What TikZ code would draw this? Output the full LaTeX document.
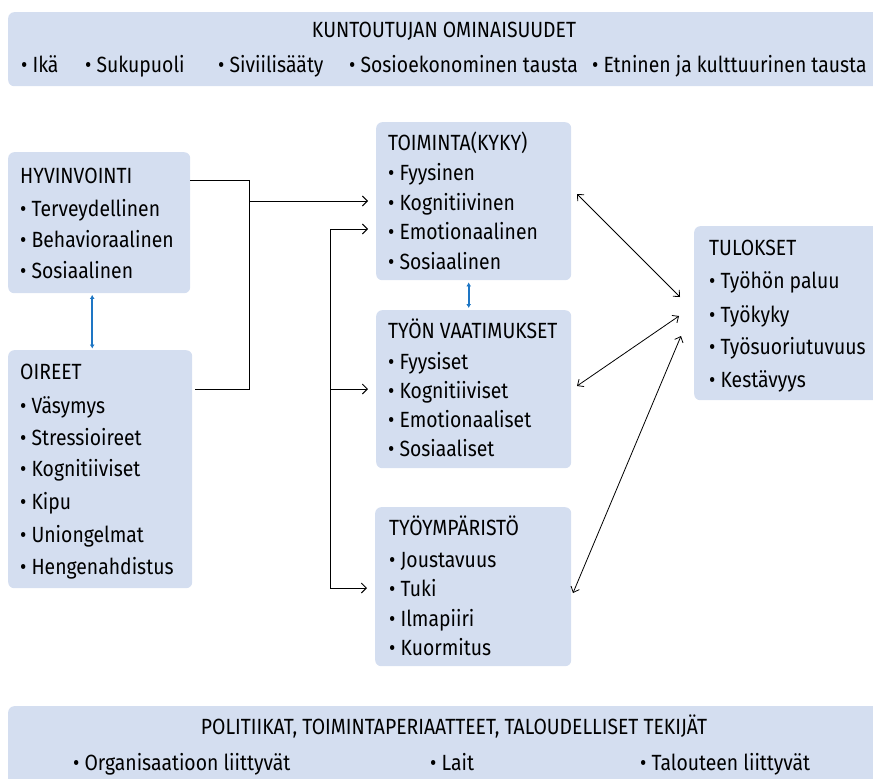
\documentclass[tikz,border=0pt]{standalone}
\usepackage{fontspec}
\setmainfont{Fira Sans}[FakeStretch=0.88]
\usetikzlibrary{arrows.meta,calc}
\definecolor{boxfill}{RGB}{212,222,240}
\definecolor{bluearr}{RGB}{30,118,196}
\begin{document}
\begin{tikzpicture}[x=1pt,y=-1pt,
  box/.style={fill=boxfill,draw=none,rounded corners=6pt,anchor=north west,inner sep=0},
  txt/.style={anchor=base west,inner sep=0,font=\fontsize{22}{26}\selectfont},
  ctxt/.style={anchor=base,inner sep=0,font=\fontsize{22}{26}\selectfont},
  conn/.style={black,line width=0.9pt},
  arr/.style={conn,-{Straight Barb[length=5pt,width=10pt]},shorten >=8pt},
  dbl/.style={black,line width=0.8pt,{Straight Barb[length=5pt,width=9pt]}-{Straight Barb[length=5pt,width=9pt]}},
  barr/.style={bluearr,line width=1.6pt,{Latex[length=4pt,width=5pt]}-{Latex[length=4pt,width=5pt]}}]
\useasboundingbox (0,0) rectangle (873,779);
\clip (0,0) rectangle (873,779);
% boxes
\node[box,minimum width=900pt,minimum height=74pt] (top) at (8,12) {};
\node[box,minimum width=182pt,minimum height=141pt] (hyv) at (8,152) {};
\node[box,minimum width=184pt,minimum height=238pt] (oir) at (8,350) {};
\node[box,minimum width=195pt,minimum height=158pt] (toim) at (376,122) {};
\node[box,minimum width=195pt,minimum height=158pt] (vaat) at (376,310) {};
\node[box,minimum width=196pt,minimum height=159pt] (ymp) at (375,507) {};
\node[box,minimum width=200pt,minimum height=174pt] (tul) at (694,226) {};
\node[box,minimum width=900pt,minimum height=90pt] (pol) at (8,706) {};
% top texts
\node[ctxt] (t0) at (444,37.5) {KUNTOUTUJAN OMINAISUUDET};
\node[txt] (t1) at (21,72.5) {• Ikä};
\node[txt] (t2) at (85,72.5) {• Sukupuoli};
\node[txt] (t3) at (218,72.5) {• Siviilisääty};
\node[txt] (t4) at (349,72.5) {• Sosioekonominen tausta};
\node[txt] (t5) at (592,72.5) {• Etninen ja kulttuurinen tausta};
% hyvinvointi
\node[txt] (h0) at (20,183.5) {HYVINVOINTI};
\node[txt] (h1) at (20,216.5) {• Terveydellinen};
\node[txt] (h2) at (20,247.5) {• Behavioraalinen};
\node[txt] (h3) at (20,278.5) {• Sosiaalinen};
% oireet
\node[txt] (o0) at (20,379.5) {OIREET};
\node[txt] (o1) at (20,413.5) {• Väsymys};
\node[txt] (o2) at (20,445.5) {• Stressioireet};
\node[txt] (o3) at (20,476.5) {• Kognitiiviset};
\node[txt] (o4) at (20,509.5) {• Kipu};
\node[txt] (o5) at (20,542.5) {• Uniongelmat};
\node[txt] (o6) at (20,574.5) {• Hengenahdistus};
% toiminta
\node[txt] (a0) at (388,150.5) {TOIMINTA(KYKY)};
\node[txt] (a1) at (388,180.5) {• Fyysinen};
\node[txt] (a2) at (388,210.5) {• Kognitiivinen};
\node[txt] (a3) at (388,239.5) {• Emotionaalinen};
\node[txt] (a4) at (388,269.5) {• Sosiaalinen};
% vaatimukset
\node[txt] (v0) at (388,338.5) {TYÖN VAATIMUKSET};
\node[txt] (v1) at (388,369.5) {• Fyysiset};
\node[txt] (v2) at (388,398.5) {• Kognitiiviset};
\node[txt] (v3) at (388,427.5) {• Emotionaaliset};
\node[txt] (v4) at (388,456.5) {• Sosiaaliset};
% tyoymparisto
\node[txt] (y0) at (389,535) {TYÖYMPÄRISTÖ};
\node[txt] (y1) at (389,567) {• Joustavuus};
\node[txt] (y2) at (389,596) {• Tuki};
\node[txt] (y3) at (389,626) {• Ilmapiiri};
\node[txt] (y4) at (389,655) {• Kuormitus};
% tulokset
\node[txt] (r0) at (709,255.5) {TULOKSET};
\node[txt] (r1) at (709,288.5) {• Työhön paluu};
\node[txt] (r2) at (709,322) {• Työkyky};
\node[txt] (r3) at (709,354.5) {• Työsuoriutuvuus};
\node[txt] (r4) at (709,387) {• Kestävyys};
% bottom texts
\node[ctxt] (p0) at (454,734.5) {POLITIIKAT, TOIMINTAPERIAATTEET, TALOUDELLISET TEKIJÄT};
\node[txt] (p1) at (73,770.5) {• Organisaatioon liittyvät};
\node[txt] (p2) at (430,770.5) {• Lait};
\node[txt] (p3) at (640,770.5) {• Talouteen liittyvät};
% connectors left bracket
\coordinate (jT) at (249,180);
\coordinate (jM) at (249,201);
\coordinate (jB) at (249,389);
\draw[conn] (hyv.east |- jT) -- (jT) -- (jB) -- ([xshift=3pt]oir.east |- jB);
\draw[arr] (jM) -- (toim.west |- jM);
% second bracket
\coordinate (kT) at (330,229);
\coordinate (kM) at (330,389);
\coordinate (kB) at (330,588);
\draw[conn] (kT) -- (kB);
\draw[arr] (kT) -- (toim.west |- kT);
\draw[arr] (kM) -- (vaat.west |- kM);
\draw[arr] (kB) -- (ymp.west |- kB);
% double arrows to tulokset
\coordinate (d1a) at (577,194);
\coordinate (d1b) at (680,297);
\coordinate (d2a) at (577,386);
\coordinate (d2b) at (679,316);
\coordinate (d3a) at (573,593);
\coordinate (d3b) at (681,336);
\draw[dbl] (d1a) -- (d1b);
\draw[dbl] (d2a) -- (d2b);
\draw[dbl] (d3a) -- (d3b);
% blue arrows
\draw[barr] ([xshift=-7pt,yshift=-1.5pt]hyv.south) -- ([xshift=-8pt,yshift=1.5pt]oir.north);
\draw[barr] ([xshift=-5pt,yshift=-2pt]toim.south) -- ([xshift=-5pt,yshift=2pt]vaat.north);
\end{tikzpicture}
\end{document}
